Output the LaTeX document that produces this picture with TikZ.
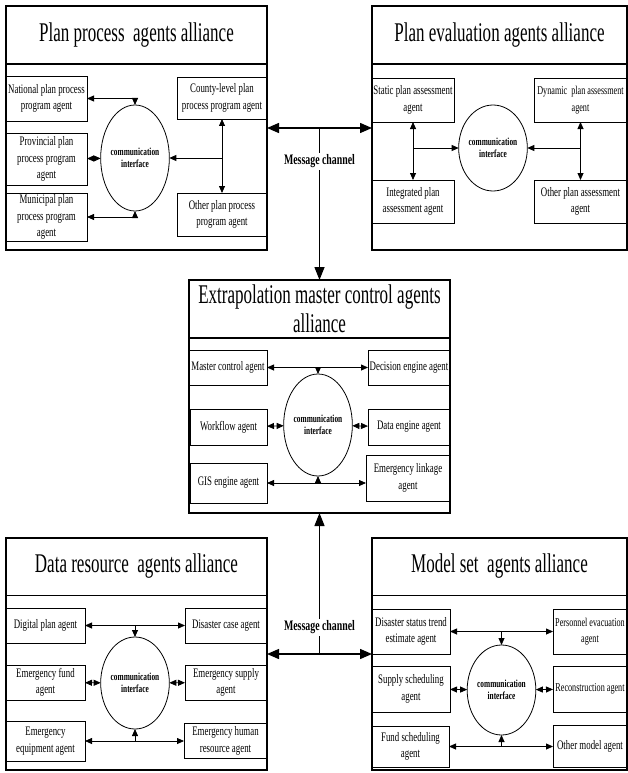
\documentclass[tikz,border=0pt]{standalone}
\usepackage{fontspec}
\setmainfont{Liberation Serif}
\newfontfamily\titlefont{Liberation Serif}[FakeStretch=0.63]
\newfontfamily\agentfont{Liberation Serif}[FakeStretch=0.68]
\usetikzlibrary{arrows.meta,shapes.geometric}

\tikzset{
  panel/.style={draw, line width=1.2pt, inner sep=0pt, outer sep=0pt},
  titlebox/.style={draw, line width=1.2pt, inner sep=0pt, outer sep=0pt, minimum height=58pt,
    align=center, font=\titlefont\fontsize{27}{29}\selectfont},
  agent/.style={draw, line width=0.8pt, inner sep=1pt, outer sep=0pt, align=center,
    font=\agentfont\fontsize{13}{16.5}\selectfont},
  agentsmall/.style={agent, font=\agentfont\fontsize{12}{16.5}\selectfont},
  commif/.style={draw, ellipse, line width=0.8pt, inner sep=0pt, outer sep=0pt, align=center,
    font=\agentfont\bfseries\fontsize{10.8}{12}\selectfont},
  link/.style={line width=0.8pt, {Triangle[length=7pt,width=6pt]}-{Triangle[length=7pt,width=6pt]}},
  tolink/.style={line width=0.8pt, -{Triangle[length=7pt,width=6pt]}},
  channel/.style={line width=1.4pt, {Triangle[length=12pt,width=10pt]}-{Triangle[length=12pt,width=10pt]}},
  tochannel/.style={line width=1.4pt, -{Triangle[length=13pt,width=10pt]}},
  chlabel/.style={fill=white, inner sep=2pt, font=\agentfont\bfseries\fontsize{14.5}{16}\selectfont}
}

\begin{document}
\begin{tikzpicture}[x=1pt, y=-1pt]
  \path[use as bounding box, fill=white] (0,0) rectangle (628,773);

  \begin{scope}
    \node[panel, minimum width=261pt, minimum height=244pt] (ppa) at (136.5,128) {};
    \node[titlebox, minimum width=261pt] (ppt) at (136.5,35) {Plan process\ \ agents alliance};

    \node[agent, minimum width=81pt, minimum height=45pt] (nat) at (46.5,98.5) {National plan process\\program agent};
    \node[agent, minimum width=81pt, minimum height=52pt] (prov) at (46.5,159) {Provincial plan\\process program\\agent};
    \node[agent, minimum width=81pt, minimum height=48pt] (muni) at (46.5,217) {Municipal plan\\process program\\agent};
    \node[agent, minimum width=90pt, minimum height=42pt] (county) at (222,98) {County-level plan\\process program agent};
    \node[agent, minimum width=90pt, minimum height=43pt] (otherpp) at (222,214.5) {Other plan process\\program agent};
    \node[commif, minimum width=55pt, minimum height=106pt] (ci1) at (135,158) {communication\\interface};

    \draw[link] (nat.east) -| (ci1.north);
    \draw[link] (prov) -- (ci1);
    \draw[link] (muni.east) -| (ci1.south);
    \draw[link] (county) -- (otherpp);
    \draw[tolink] (county.south |- ci1.east) -- (ci1.east);
  \end{scope}

  \begin{scope}
    \node[panel, minimum width=255pt, minimum height=244pt] (pea) at (499.5,128) {};
    \node[titlebox, minimum width=255pt] (pet) at (499.5,35) {Plan evaluation agents alliance};

    \node[agent, minimum width=82pt, minimum height=44pt] (static) at (413,100) {Static plan assessment\\agent};
    \node[agent, minimum width=82pt, minimum height=43pt] (integ) at (413,201.5) {Integrated plan\\assessment agent};
    \node[agentsmall, minimum width=93pt, minimum height=44pt] (dyn) at (580.5,100) {Dynamic\ \ plan assessment\\agent};
    \node[agent, minimum width=93pt, minimum height=43pt] (otherpa) at (580.5,201.5) {Other plan assessment\\agent};
    \node[commif, minimum width=59pt, minimum height=86pt] (ci2) at (493,148) {communication\\interface};

    \draw[link] (static) -- (integ);
    \draw[tolink] (static.south |- ci2.west) -- (ci2.west);
    \draw[link] (dyn) -- (otherpa);
    \draw[tolink] (dyn.south |- ci2.east) -- (ci2.east);
  \end{scope}

  \begin{scope}
    \node[panel, minimum width=261pt, minimum height=233pt] (mca) at (319.5,396.5) {};
    \node[titlebox, minimum width=261pt] (mct) at (319.5,309) {Extrapolation master control agents\\alliance};

    \node[agent, minimum width=78pt, minimum height=35pt] (mcag) at (228,367.5) {Master control agent};
    \node[agent, minimum width=82pt, minimum height=35pt] (deca) at (409,367.5) {Decision engine agent};
    \node[agent, minimum width=77pt, minimum height=36pt] (wfa) at (228.5,427) {Workflow agent};
    \node[agent, minimum width=82pt, minimum height=36pt] (dea) at (409,427) {Data engine agent};
    \node[agent, minimum width=77pt, minimum height=40pt] (gisa) at (228.5,483) {GIS engine agent};
    \node[agent, minimum width=84pt, minimum height=46pt] (ela) at (408,478) {Emergency linkage\\agent};
    \node[commif, minimum width=55pt, minimum height=102pt] (ci3) at (318,425) {communication\\interface};

    \draw[link] (mcag) -- (deca);
    \draw[tolink] (ci3.north |- mcag.east) -- (ci3.north);
    \draw[link] (wfa) -- (ci3);
    \draw[link] (ci3) -- (dea);
    \draw[link] (gisa.east) -- (gisa.east -| ela.west);
    \draw[tolink] (ci3.south |- gisa.east) -- (ci3.south);
  \end{scope}

  \begin{scope}
    \node[panel, minimum width=261pt, minimum height=232pt] (dra) at (136.5,654) {};
    \node[titlebox, minimum width=261pt] (drt) at (136.5,566.5) {Data resource\ \ agents alliance};

    \node[agent, minimum width=79pt, minimum height=35pt] (dpa) at (45.5,625.5) {Digital plan agent};
    \node[agent, minimum width=82pt, minimum height=35pt] (dca) at (226,625.5) {Disaster case agent};
    \node[agent, minimum width=79pt, minimum height=35pt] (efa) at (45.5,682.5) {Emergency fund\\agent};
    \node[agent, minimum width=82pt, minimum height=35pt] (esa) at (226,682.5) {Emergency supply\\agent};
    \node[agent, minimum width=79pt, minimum height=40pt] (eea) at (45.5,741) {Emergency\\equipment agent};
    \node[agent, minimum width=83pt, minimum height=35pt] (ehra) at (225.5,741) {Emergency human\\resource agent};
    \node[commif, minimum width=56pt, minimum height=92pt] (ci4) at (135,683) {communication\\interface};

    \draw[link] (dpa) -- (dca);
    \draw[tolink] (ci4.north |- dpa.east) -- (ci4.north);
    \draw[link] (efa) -- (ci4);
    \draw[link] (ci4) -- (esa);
    \draw[link] (eea) -- (ehra);
    \draw[tolink] (ci4.south |- eea.east) -- (ci4.south);
  \end{scope}

  \begin{scope}
    \node[panel, minimum width=255pt, minimum height=232pt] (msa) at (499.5,654) {};
    \node[titlebox, minimum width=255pt] (mst) at (499.5,566.5) {Model set\ \ agents alliance};

    \node[agent, minimum width=78pt, minimum height=45pt] (dsa) at (411,631.5) {Disaster status trend\\estimate agent};
    \node[agentsmall, minimum width=74pt, minimum height=45pt] (pers) at (590,631.5) {Personnel evacuation\\agent};
    \node[agent, minimum width=78pt, minimum height=46pt] (ssa) at (411,689) {Supply scheduling\\agent};
    \node[agentsmall, minimum width=74pt, minimum height=46pt] (rca) at (590,689) {Reconstruction agent};
    \node[agent, minimum width=77pt, minimum height=41pt] (fsa) at (410.5,746.5) {Fund scheduling\\agent};
    \node[agent, minimum width=74pt, minimum height=42pt] (oma) at (590,746.5) {Other model agent};
    \node[commif, minimum width=51pt, minimum height=90pt] (ci5) at (501.5,690) {communication\\interface};

    \draw[link] (dsa) -- (pers);
    \draw[tolink] (ci5.north |- dsa.east) -- (ci5.north);
    \draw[link] (ssa) -- (ci5);
    \draw[link] (ci5) -- (rca);
    \draw[link] (fsa) -- (oma);
    \draw[tolink] (ci5.south |- fsa.east) -- (ci5.south);
  \end{scope}

  \draw[channel] (ppa) -- coordinate (mc1) (pea);
  \draw[tochannel] (mc1) -- node[chlabel, pos=0.22] {Message channel} (mca.north);
  \draw[channel] (dra) -- coordinate (mc2) (msa);
  \draw[tochannel] (mc2) -- node[chlabel, pos=0.19] {Message channel} (mca.south);
\end{tikzpicture}
\end{document}
